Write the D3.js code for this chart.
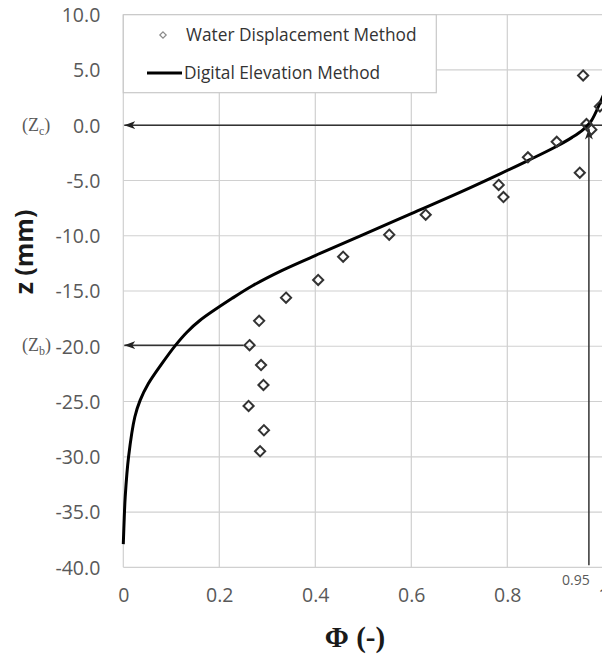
<!DOCTYPE html>
<html>
<head>
<meta charset="utf-8">
<script src="https://cdn.jsdelivr.net/npm/d3@7/dist/d3.min.js"></script>
<style>
  html, body { margin: 0; padding: 0; background: #fff; }
  svg { display: block; }
</style>
</head>
<body>
<svg id="chart" width="602" height="658"></svg>
<script>
// Water displacement measurements: porosity Φ and elevation z (mm)
const waterPhi = [0.958, 0.993, 0.965, 0.975, 0.903, 0.843, 0.951, 0.782, 0.792,
                  0.630, 0.554, 0.458, 0.406, 0.339, 0.283, 0.263, 0.287, 0.292,
                  0.261, 0.293, 0.285];
const waterZ   = [4.5, 1.7, 0.1, -0.4, -1.5, -2.9, -4.3, -5.4, -6.5,
                  -8.1, -9.9, -11.9, -14.0, -15.6, -17.7, -19.9, -21.7, -23.5,
                  -25.4, -27.6, -29.5];

// Digital elevation profile
const demPhi = [0, 0.002, 0.004, 0.011, 0.024, 0.035, 0.052, 0.08, 0.109, 0.132,
                0.16, 0.229, 0.27, 0.33, 0.41, 0.5, 0.6, 0.7, 0.785, 0.843,
                0.903, 0.935, 0.958, 0.975, 0.993, 1.0];
const demZ   = [-37.9, -35.5, -33.6, -30.0, -26.4, -24.9, -23.4, -21.6, -19.9, -18.75,
                -17.65, -15.6, -14.5, -13.15, -11.6, -9.9, -8.0, -6.1, -4.4, -3.2,
                -1.9, -1.1, -0.4, 0.4, 2.0, 2.7];

const xTicks = [0, 0.2, 0.4, 0.6, 0.8, 1];
const xTickLabels = ["0", "0.2", "0.4", "0.6", "0.8", "1"];
const yTicks = [10, 5, 0, -5, -10, -15, -20, -25, -30, -35, -40];
const legendLabels = ["Water Displacement Method", "Digital Elevation Method"];

// Reference levels marked by arrows
const zC = 0;          // crest level
const zB = -19.9;      // base level
const phiB = 0.263;    // porosity at the base level
const phiMark = 0.97;  // position of the vertical marker
const phiMarkLabel = "0.95";

const svg = d3.select("#chart");
const x = d3.scaleLinear().domain([0, 1]).range([123.3, 603.3]);
const y = d3.scaleLinear().domain([-40, 10]).range([567.3, 14.7]);

const gridColor = "#d0d0d0";
const textColor = "#595959";
const tickFont = "'Open Sans', sans-serif";

// Grid
const grid = svg.append("g");
grid.selectAll("line.v").data(xTicks).join("line")
  .attr("x1", d => x(d)).attr("x2", d => x(d))
  .attr("y1", y(10)).attr("y2", y(-40))
  .attr("stroke", gridColor).attr("stroke-width", 1.2);
grid.selectAll("line.h").data(yTicks).join("line")
  .attr("x1", x(0)).attr("x2", x(1))
  .attr("y1", d => y(d)).attr("y2", d => y(d))
  .attr("stroke", gridColor).attr("stroke-width", 1.2);

// Axis labels (axis lines come from the grid)
const yAxis = d3.axisLeft(y).tickValues(yTicks).tickFormat(d3.format(".1f")).tickSize(0).tickPadding(23);
const gy = svg.append("g").attr("transform", `translate(${x(0)},0)`).call(yAxis);
gy.select(".domain").remove();
gy.selectAll("text").attr("font-family", tickFont).attr("font-size", 19.5)
  .attr("fill", textColor).attr("dy", "0.35em").text(d => d3.format(".1f")(d).replace("−", "-"));

const xAxis = d3.axisBottom(x).tickValues(xTicks).tickFormat((d, i) => xTickLabels[i]).tickSize(0).tickPadding(21);
const gx = svg.append("g").attr("transform", `translate(0,${y(-40)})`).call(xAxis);
gx.select(".domain").remove();
gx.selectAll("text").attr("font-family", tickFont).attr("font-size", 19.5).attr("fill", textColor);

// Axis titles
svg.append("text")
  .attr("transform", `translate(33,252) rotate(-90)`)
  .attr("text-anchor", "middle")
  .attr("font-family", tickFont).attr("font-weight", "bold").attr("font-size", 25)
  .attr("fill", "#1a1a1a")
  .text("z (mm)");

svg.append("text")
  .attr("x", 355).attr("y", 647)
  .attr("text-anchor", "middle")
  .attr("font-family", "'Liberation Serif', serif").attr("font-weight", "bold").attr("font-size", 29)
  .attr("fill", "#1a1a1a")
  .text("Φ (-)");

// Arrow marker
const defs = svg.append("defs");
defs.append("marker")
  .attr("id", "arrow").attr("viewBox", "0 -5 12 10")
  .attr("refX", 11).attr("refY", 0)
  .attr("markerWidth", 12).attr("markerHeight", 10)
  .attr("markerUnits", "userSpaceOnUse")
  .attr("orient", "auto")
  .append("path").attr("d", "M0,-4L11,0L0,4L3,0Z").attr("fill", "#222");

const arrowColor = "#333";
// Crest level arrow
svg.append("line")
  .attr("x1", x(1)).attr("y1", y(zC)).attr("x2", x(0) + 1).attr("y2", y(zC))
  .attr("stroke", arrowColor).attr("stroke-width", 1.5).attr("marker-end", "url(#arrow)");
// Base level arrow
svg.append("line")
  .attr("x1", x(phiB) - 6).attr("y1", y(zB)).attr("x2", x(0) + 1).attr("y2", y(zB))
  .attr("stroke", arrowColor).attr("stroke-width", 1.5).attr("marker-end", "url(#arrow)");
// Vertical marker arrow
svg.append("line")
  .attr("x1", x(phiMark)).attr("y1", y(-40) - 2).attr("x2", x(phiMark)).attr("y2", y(-0.3))
  .attr("stroke", arrowColor).attr("stroke-width", 1.5).attr("marker-end", "url(#arrow)");
svg.append("text")
  .attr("x", x(phiMark) - 13).attr("y", y(-40) + 18)
  .attr("text-anchor", "middle")
  .attr("font-family", tickFont).attr("font-size", 14).attr("fill", textColor)
  .text(phiMarkLabel);

// Level labels
function levelLabel(zv, sub) {
  const t = svg.append("text")
    .attr("x", 22).attr("y", y(zv) + 6)
    .attr("font-family", "'Liberation Serif', serif").attr("font-size", 18).attr("fill", textColor);
  t.append("tspan").text("(Z");
  t.append("tspan").attr("font-size", 12).attr("dy", 4).text(sub);
  t.append("tspan").attr("dy", -4).text(")");
}
levelLabel(zC, "c");
levelLabel(zB, "b");

// Digital elevation curve
const demData = demPhi.map((p, i) => ({ phi: p, z: demZ[i] }));
svg.append("path")
  .datum(demData)
  .attr("fill", "none").attr("stroke", "#000").attr("stroke-width", 3)
  .attr("stroke-linejoin", "round")
  .attr("d", d3.line().x(d => x(d.phi)).y(d => y(d.z)).curve(d3.curveCatmullRom.alpha(0.5)));

// Water displacement diamonds
const diamond = d3.symbol().type(d3.symbolDiamond2).size(66);
const waterData = waterPhi.map((p, i) => ({ phi: p, z: waterZ[i] }));
svg.append("g").selectAll("path").data(waterData).join("path")
  .attr("transform", d => `translate(${x(d.phi)},${y(d.z)})`)
  .attr("d", diamond)
  .attr("fill", "none").attr("stroke", "#333").attr("stroke-width", 2);

// Legend
const lg = svg.append("g");
lg.append("rect")
  .attr("x", x(0)).attr("y", y(10))
  .attr("width", 313).attr("height", 78)
  .attr("fill", "#fff").attr("stroke", "#c8c8c8").attr("stroke-width", 1.2);
lg.append("path")
  .attr("transform", `translate(163,35)`)
  .attr("d", d3.symbol().type(d3.symbolDiamond2).size(26))
  .attr("fill", "none").attr("stroke", "#8a8a8a").attr("stroke-width", 1.2);
lg.append("text").attr("x", 186).attr("y", 35).attr("dy", "0.35em")
  .attr("font-family", tickFont).attr("font-size", 17.3).attr("fill", "#333")
  .text(legendLabels[0]);
lg.append("line").attr("x1", 147).attr("x2", 182).attr("y1", 73).attr("y2", 73)
  .attr("stroke", "#000").attr("stroke-width", 3);
lg.append("text").attr("x", 184).attr("y", 73).attr("dy", "0.35em")
  .attr("font-family", tickFont).attr("font-size", 17.3).attr("fill", "#333")
  .text(legendLabels[1]);
</script>
</body>
</html>
